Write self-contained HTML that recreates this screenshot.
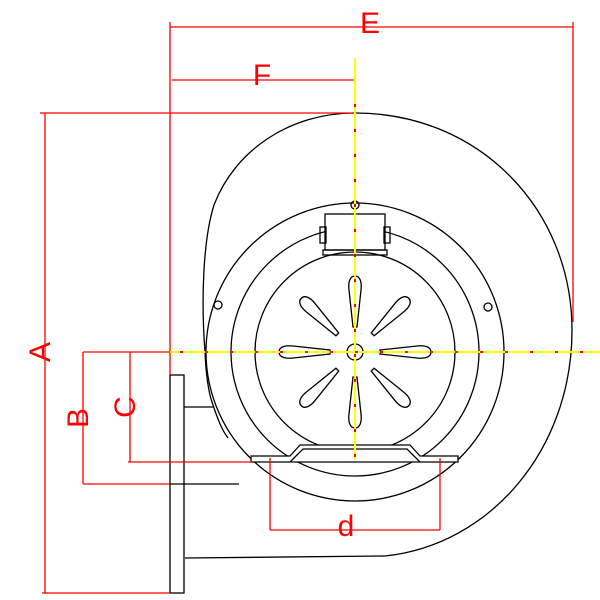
<!DOCTYPE html><html><head><style>body{margin:0;background:#fff}svg{display:block}</style></head><body>
<svg width="600" height="600" viewBox="0 0 600 600" xmlns="http://www.w3.org/2000/svg">
<g fill="none" stroke="#000" stroke-width="1.3">
<path d="M205,352 C201,300 203,240 214,205 C235,150 290,113 355,113 C480,113 572,210 572,330 C572,450 490,545 385,556 L185,558"/>
<path d="M205,352 C206,375 208,392 213,405 C218,420 222,430 228,438"/>
<line x1="184" y1="407" x2="213" y2="407"/>
<circle cx="355" cy="352" r="100"/>
<circle cx="355" cy="352" r="124"/>
<circle cx="355" cy="352" r="149"/>
<circle cx="355" cy="352" r="8"/>
<circle cx="218" cy="305" r="4"/>
<circle cx="488" cy="307" r="4"/>
<circle cx="355" cy="205" r="4"/>
<rect x="170" y="375" width="14" height="218" fill="#fff"/>
<line x1="170" y1="484" x2="239" y2="484"/>
<rect x="325" y="214" width="60" height="36" fill="#fff"/>
<rect x="320" y="227" width="6" height="16"/><rect x="384" y="227" width="6" height="16"/>
<rect x="323" y="250" width="64" height="5"/>
<path d="M251,456 H290 L300,445 H410 L420,456 H458 V462 H251 Z" fill="#fff"/>
<path d="M290,462 L303,449 H407 L420,462"/>
<g id="s"><path d="M355,276 C360,276 362,282 361,290 L357,327 L353,327 L349,290 C348,282 350,276 355,276 Z"/></g>
<use href="#s" transform="rotate(45 355 352)"/><use href="#s" transform="rotate(90 355 352)"/><use href="#s" transform="rotate(135 355 352)"/><use href="#s" transform="rotate(180 355 352)"/><use href="#s" transform="rotate(225 355 352)"/><use href="#s" transform="rotate(270 355 352)"/><use href="#s" transform="rotate(315 355 352)"/>
</g>
<g stroke="#ff0000" stroke-width="1.3" fill="none">
<line x1="170" y1="27" x2="573" y2="27"/><line x1="170" y1="22" x2="170" y2="375"/><line x1="573" y1="22" x2="573" y2="322"/>
<line x1="172" y1="80" x2="355" y2="80"/>
<line x1="40" y1="113" x2="355" y2="113"/><line x1="45" y1="113" x2="45" y2="593"/><line x1="42" y1="593" x2="170" y2="593"/>
<line x1="83" y1="352" x2="170" y2="352"/><line x1="83" y1="352" x2="83" y2="484"/><line x1="83" y1="484" x2="170" y2="484"/>
<line x1="130" y1="352" x2="130" y2="462"/><line x1="128" y1="462" x2="252" y2="462"/>
<line x1="270" y1="458" x2="270" y2="530"/><line x1="440" y1="458" x2="440" y2="530"/><line x1="270" y1="530" x2="440" y2="530"/>
</g>
<g stroke="#ffff00" stroke-width="2"><line x1="355" y1="58" x2="355" y2="460"/><line x1="170" y1="352" x2="600" y2="352"/></g>
<g stroke="#ff0000" stroke-width="2" stroke-dasharray="3 22"><line x1="355" y1="104" x2="355" y2="460"/><line x1="180" y1="352" x2="600" y2="352"/></g>
<g fill="#ff0000" font-family="Liberation Sans, sans-serif" font-size="30">
<text x="370" y="33" text-anchor="middle">E</text>
<text x="262" y="85" text-anchor="middle">F</text>
<text transform="translate(50,352) rotate(-90)" text-anchor="middle">A</text>
<text transform="translate(88,418) rotate(-90)" text-anchor="middle">B</text>
<text transform="translate(135,407) rotate(-90)" text-anchor="middle">C</text>
<text x="346" y="536" text-anchor="middle">d</text>
</g>
</svg></body></html>
